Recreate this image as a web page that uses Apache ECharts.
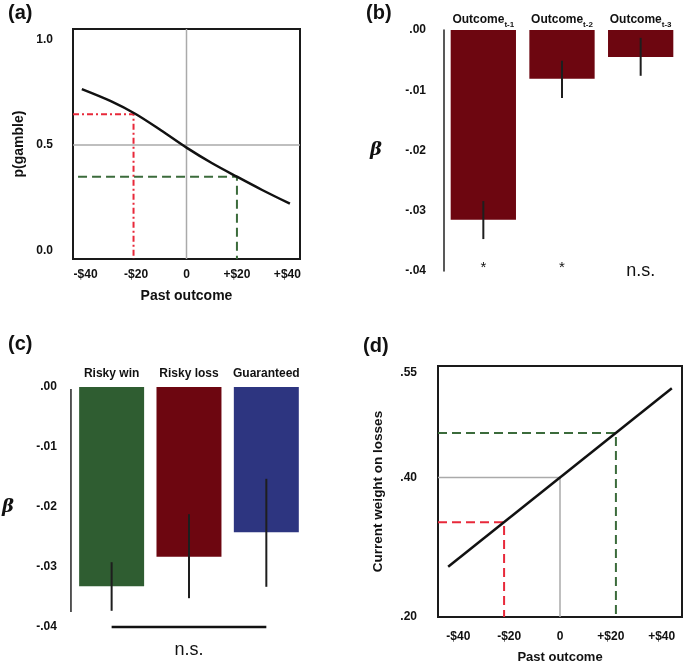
<!DOCTYPE html>
<html>
<head>
<meta charset="utf-8">
<script src="https://cdn.jsdelivr.net/npm/echarts@6/dist/echarts.min.js"></script>
<style>
  html, body { margin: 0; padding: 0; background: #fff; }
  #chart { width: 685px; height: 665px; }
</style>
</head>
<body>
<div id="chart"></div>
<script>
// (a) p(gamble) against past outcome
const aOutcome = [-41.5, -30, -20, -10, 0, 10, 20, 30, 41]
const aGamble = [0.765, 0.708, 0.646, 0.569, 0.488, 0.415, 0.35, 0.287, 0.222]
const aZeroX = [[0, -0.04], [0, 1.05]]
const aHalfY = [[-45, 0.5], [45, 0.5]]
const aLossGuide = [[-45, 0.646], [-21, 0.646], [-21, -0.04]]
const aWinGuide = [[-43, 0.35], [20, 0.35], [20, -0.04]]

// (b) betas for lagged outcomes
const bLags = ['t-1', 't-2', 't-3']
const bBeta = [-0.0315, -0.0081, -0.0045]
const bErrLow = [-0.0347, -0.0113, -0.0076]
const bErrHigh = [-0.0284, -0.0051, -0.0013]
const bSig = ['*', '*', 'n.s.']

// (c) betas by outcome type
const cTypes = ['Risky win', 'Risky loss', 'Guaranteed']
const cBeta = [-0.0332, -0.0283, -0.0242]
const cErrLow = [-0.0373, -0.0352, -0.0333]
const cErrHigh = [-0.0292, -0.0212, -0.0153]
const cColors = ['#2f5d31', '#6d0610', '#2d3580']
const cAxisEnd = -0.0375
const cBracket = [[0, -0.04], [2, -0.04]]

// (d) weight on losses against past outcome
const dOutcome = [-44, 44]
const dWeight = [0.272, 0.528]
const dZeroGuide = [[-48, 0.40], [0, 0.40], [0, 0.20]]
const dLossGuide = [[-48, 0.336], [-22, 0.336], [-22, 0.20]]
const dWinGuide = [[-48, 0.464], [22, 0.464], [22, 0.20]]

const FONT = 'Liberation Sans, Arial, sans-serif'
const dollarLabels = { '-40': '-$40', '-20': '-$20', '0': '0', '20': '+$20', '40': '+$40' }
const tickStyle = { fontFamily: FONT, fontWeight: 'bold', fontSize: 12, color: '#111' }
const nameStyle = { fontFamily: FONT, fontWeight: 'bold', fontSize: 14, color: '#111' }
const betaName = { fontFamily: 'DejaVu Serif, serif', fontStyle: 'italic', fontWeight: 'bold', fontSize: 18, color: '#111' }
const betaFmt = v => (Math.abs(v) < 1e-9 ? '.00' : '-.0' + Math.round(-v * 100))

const chart = echarts.init(document.getElementById('chart'))

function errorBar(params, api) {
  const lo = api.coord([api.value(0), api.value(1)])
  const hi = api.coord([api.value(0), api.value(2)])
  return {
    type: 'line',
    shape: { x1: lo[0], y1: lo[1], x2: hi[0], y2: hi[1] },
    style: { stroke: '#1e1e1e', lineWidth: 2 }
  }
}

// short y axis line of panel (c), it stops above -.04
function sideLine(params, api) {
  const cs = params.coordSys
  const top = api.coord([0, 0])
  const end = api.coord([0, api.value(0)])
  return {
    type: 'line',
    shape: { x1: cs.x - 2, y1: top[1] + 2, x2: cs.x - 2, y2: end[1] },
    style: { stroke: '#222', lineWidth: 1.5 }
  }
}

const guide = (data, xi, yi, color, type, width) => ({
  type: 'line', xAxisIndex: xi, yAxisIndex: yi, data: data,
  showSymbol: false, silent: true, clip: false, z: 1,
  lineStyle: { color: color, width: width || 2, type: type }
})

const option = {
  animation: false,
  backgroundColor: '#fff',
  title: [
    { text: '(a)', left: 3, top: -2 },
    { text: '(b)', left: 361, top: -2 },
    { text: '(c)', left: 3, top: 329 },
    { text: '(d)', left: 358, top: 331 }
  ].map(t => Object.assign(t, { textStyle: { fontFamily: FONT, fontWeight: 'bold', fontSize: 20, color: '#111' } })),
  grid: [
    { left: 73, top: 29, width: 227, height: 230, show: true, borderColor: '#1a1a1a', borderWidth: 2 },
    { left: 444, top: 30, width: 236, height: 241 },
    { left: 70, top: 387, width: 235, height: 240 },
    { left: 438, top: 366, width: 245, height: 252, show: true, borderColor: '#1a1a1a', borderWidth: 2 }
  ],
  xAxis: [
    {
      gridIndex: 0, type: 'value', min: -45, max: 45, interval: 5,
      name: 'Past outcome', nameLocation: 'middle', nameGap: 30, nameTextStyle: nameStyle,
      axisLine: { show: false }, axisTick: { show: false }, splitLine: { show: false },
      axisLabel: Object.assign({ margin: 10, formatter: v => dollarLabels[v] || '' }, tickStyle)
    },
    {
      gridIndex: 1, type: 'category', data: bLags, position: 'top',
      axisLine: { show: false }, axisTick: { show: false },
      axisLabel: {
        margin: 4, interval: 0,
        formatter: v => '{m|Outcome}{s|' + v + '}',
        rich: {
          m: { fontFamily: FONT, fontWeight: 'bold', fontSize: 12, color: '#111', lineHeight: 16, verticalAlign: 'bottom' },
          s: { fontFamily: FONT, fontWeight: 'bold', fontSize: 8, color: '#111', lineHeight: 16, verticalAlign: 'bottom', padding: [0, 0, -3, 0] }
        }
      }
    },
    {
      gridIndex: 1, type: 'category', data: bSig, position: 'bottom',
      axisLine: { show: false }, axisTick: { show: false },
      axisLabel: {
        margin: -17, interval: 0,
        formatter: v => (v === '*' ? '{st|*}' : '{ns|n.s.}'),
        rich: {
          st: { fontFamily: FONT, fontSize: 15, color: '#111', padding: [6, 0, 0, 0] },
          ns: { fontFamily: FONT, fontSize: 18, color: '#111', padding: [8, 0, 0, 0] }
        }
      }
    },
    {
      gridIndex: 2, type: 'category', data: cTypes, position: 'top',
      axisLine: { show: false }, axisTick: { show: false },
      axisLabel: Object.assign({ margin: 7, interval: 0 }, tickStyle)
    },
    {
      gridIndex: 2, type: 'category', data: cTypes, position: 'bottom',
      axisLine: { show: false }, axisTick: { show: false }, axisLabel: { show: false },
      name: 'n.s.', nameLocation: 'middle', nameGap: 14,
      nameTextStyle: { fontFamily: FONT, fontSize: 18, color: '#111' }
    },
    {
      gridIndex: 3, type: 'value', min: -48, max: 48, interval: 4,
      name: 'Past outcome', nameLocation: 'middle', nameGap: 34,
      nameTextStyle: Object.assign({}, nameStyle, { fontSize: 13 }),
      axisLine: { show: false }, axisTick: { show: false }, splitLine: { show: false },
      axisLabel: Object.assign({ margin: 14, formatter: v => dollarLabels[v] || '' }, tickStyle)
    }
  ],
  yAxis: [
    {
      gridIndex: 0, type: 'value', min: -0.04, max: 1.05, interval: 0.01,
      name: 'p(gamble)', nameLocation: 'middle', nameGap: 47, nameTextStyle: nameStyle,
      axisLine: { show: false }, axisTick: { show: false }, splitLine: { show: false },
      axisLabel: Object.assign({
        margin: 20,
        formatter: v => {
          for (const t of [0, 0.5, 1]) if (Math.abs(v - t) < 1e-6) return t.toFixed(1)
          return ''
        }
      }, tickStyle)
    },
    {
      gridIndex: 1, type: 'value', min: -0.04, max: 0, interval: 0.01,
      name: 'β', nameLocation: 'middle', nameRotate: 0, nameGap: 62, nameTextStyle: betaName,
      axisLine: { show: true, lineStyle: { color: '#222', width: 1.5 } },
      axisTick: { show: false }, splitLine: { show: false },
      axisLabel: Object.assign({ margin: 18, formatter: betaFmt }, tickStyle)
    },
    {
      gridIndex: 2, type: 'value', min: -0.04, max: 0, interval: 0.01,
      name: 'β', nameLocation: 'middle', nameRotate: 0, nameGap: 59, nameTextStyle: betaName,
      axisLine: { show: false }, axisTick: { show: false }, splitLine: { show: false },
      axisLabel: Object.assign({ margin: 16, formatter: betaFmt }, tickStyle)
    },
    {
      gridIndex: 3, type: 'value', min: 0.2, max: 0.56, interval: 0.05,
      name: 'Current weight on losses', nameLocation: 'middle', nameGap: 53,
      nameTextStyle: Object.assign({}, nameStyle, { fontSize: 13.5 }),
      axisLine: { show: false }, axisTick: { show: false }, splitLine: { show: false },
      axisLabel: Object.assign({
        margin: 21,
        formatter: v => {
          for (const t of [0.2, 0.4, 0.55]) if (Math.abs(v - t) < 1e-6) return t.toFixed(2).slice(1)
          return ''
        }
      }, tickStyle)
    }
  ],
  series: [
    // (a)
    guide(aZeroX, 0, 0, '#aaaaaa', 'solid', 1.5),
    guide(aHalfY, 0, 0, '#aaaaaa', 'solid', 1.5),
    guide(aLossGuide, 0, 0, '#e8293a', [6, 3, 2, 3], 2),
    guide(aWinGuide, 0, 0, '#3b6b3b', [9, 5], 2),
    {
      type: 'line', xAxisIndex: 0, yAxisIndex: 0, smooth: 0.3, showSymbol: false, z: 3,
      data: aOutcome.map((x, i) => [x, aGamble[i]]),
      lineStyle: { color: '#111', width: 2.5 }
    },
    // (b)
    {
      type: 'bar', xAxisIndex: 1, yAxisIndex: 1, barWidth: '83%',
      data: bBeta, itemStyle: { color: '#6d0610' }
    },
    {
      type: 'custom', xAxisIndex: 1, yAxisIndex: 1, renderItem: errorBar, z: 5,
      data: bLags.map((_, i) => [i, bErrLow[i], bErrHigh[i]])
    },
    // (c)
    {
      type: 'bar', xAxisIndex: 3, yAxisIndex: 2, barWidth: '84%',
      data: cBeta.map((v, i) => ({ value: v, itemStyle: { color: cColors[i] } }))
    },
    {
      type: 'custom', xAxisIndex: 3, yAxisIndex: 2, renderItem: errorBar, z: 5,
      data: cTypes.map((_, i) => [i, cErrLow[i], cErrHigh[i]])
    },
    {
      type: 'custom', xAxisIndex: 3, yAxisIndex: 2, renderItem: sideLine, clip: false,
      data: [[cAxisEnd]]
    },
    guide(cBracket, 3, 2, '#111', 'solid', 2.5),
    // (d)
    guide(dZeroGuide, 5, 3, '#aaaaaa', 'solid', 1.5),
    guide(dLossGuide, 5, 3, '#e8293a', [9, 5], 2),
    guide(dWinGuide, 5, 3, '#3b6b3b', [9, 5], 2),
    {
      type: 'line', xAxisIndex: 5, yAxisIndex: 3, showSymbol: false, z: 3,
      data: dOutcome.map((x, i) => [x, dWeight[i]]),
      lineStyle: { color: '#111', width: 2.5 }
    }
  ]
}

chart.setOption(option)
</script>
</body>
</html>
